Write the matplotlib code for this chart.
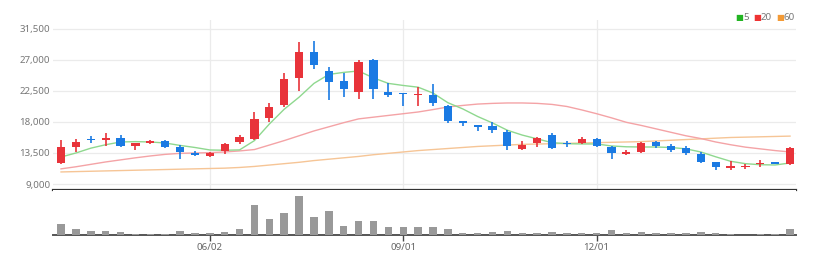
import numpy as np
import matplotlib
matplotlib.use("Agg")
import matplotlib.pyplot as plt

# DATA (weekly candles)

opens  = [12050, 14370, 15500, 15380, 15670, 14520, 14950, 15240, 14370, 13500,
          13070, 13790, 15100, 15530, 18580, 20470, 24380, 28160, 25400, 23950,
          22350, 27000, 22350, 22200, 21920, 21920, 20320, 18150, 17570, 17420,
          16550, 14080, 14950, 16110, 14950, 14950, 15530, 14370, 13360, 13650,
          15100, 14520, 14220, 13360, 12200, 11400, 11470, 11910, 12200, 11910]
highs  = [15400, 15530, 15970, 16400, 16110, 15000, 15400, 15400, 14670, 13800,
          13650, 14950, 16110, 19450, 20760, 25110, 29610, 29760, 25980, 25110,
          27000, 27150, 23660, 22200, 23080, 23510, 20470, 18150, 17570, 18000,
          16840, 15290, 15820, 16400, 15240, 15820, 15670, 14520, 13940, 15100,
          15240, 14810, 14520, 13650, 12200, 12340, 11910, 12480, 12200, 14370]
lows   = [11950, 13650, 14950, 14520, 14370, 13950, 14800, 14220, 12630, 13000,
          12920, 13360, 14810, 15380, 18000, 20180, 22500, 25690, 21190, 21630,
          21340, 21340, 21630, 20320, 20320, 20320, 17860, 17420, 16690, 16400,
          13940, 13940, 14370, 14080, 14370, 14810, 14370, 12630, 13210, 13500,
          14220, 13650, 13210, 12050, 11030, 11030, 11180, 11470, 11910, 11760]
closes = [14370, 15100, 15400, 15670, 14520, 14950, 15240, 14370, 13650, 13210,
          13500, 14810, 15820, 18440, 20180, 24240, 28160, 26270, 23810, 22790,
          26710, 22790, 21920, 22060, 22000, 20760, 18150, 17860, 17280, 16840,
          14520, 14670, 15670, 14280, 14810, 15530, 14520, 13500, 13650, 14950,
          14520, 13940, 13500, 12200, 11470, 11470, 11620, 12050, 11910, 14220]

ma5  = [12920, 13500, 14200, 14700, 15100, 15150, 15100, 14950, 14600, 14300,
        13940, 13900, 13950, 15300, 17700, 19850, 21600, 23600, 24900, 25200,
        25400, 24400, 23600, 23300, 23050, 22200, 20800, 19900, 18800, 17860,
        16800, 16100, 15550, 15000, 14850, 14810, 14810, 14520, 14400, 14370,
        14370, 14300, 14100, 13650, 12950, 12300, 11950, 11800, 11760, 12050]
ma20 = [11200, 11500, 11850, 12200, 12500, 12800, 13070, 13300, 13450, 13500,
        13550, 13650, 13800, 14000, 14650, 15300, 16000, 16700, 17300, 17900,
        18450, 18700, 18950, 19200, 19450, 19800, 20180, 20400, 20600, 20700,
        20760, 20760, 20700, 20550, 20250, 19750, 19200, 18600, 17950, 17500,
        17000, 16500, 16000, 15600, 15100, 14700, 14350, 14100, 13850, 13650]
ma60 = [10750, 10800, 10850, 10900, 10950, 11000, 11050, 11100, 11150, 11200,
        11250, 11300, 11400, 11550, 11750, 11950, 12150, 12400, 12600, 12800,
        13000, 13250, 13450, 13650, 13850, 14000, 14150, 14300, 14450, 14550,
        14650, 14750, 14800, 14850, 14900, 14950, 15000, 15050, 15100, 15150,
        15250, 15350, 15450, 15550, 15650, 15750, 15800, 15850, 15900, 15950]

volumes = [275000, 142000, 105000, 88000, 70000, 35000, 35000, 35000, 95000, 45000,
           45000, 70000, 138000, 762000, 400000, 550000, 975000, 438000, 612000, 225000,
           338000, 362000, 188000, 188000, 212000, 208000, 150000, 40000, 50000, 65000,
           90000, 58000, 40000, 82000, 58000, 40000, 58000, 115000, 40000, 82000,
           40000, 50000, 58000, 65000, 50000, 32000, 8000, 32000, 32000, 158000]

price_ticks = [9000, 13500, 18000, 22500, 27000, 31500]
date_tick_pos = [10, 23, 36]
date_tick_labels = ["06/02", "09/01", "12/01"]

# STYLE

UP = "#e8333a"
DOWN = "#1a7ae3"
W, H = 818, 264
plt.rcParams["font.family"] = ["Noto Sans", "DejaVu Sans"]

fig = plt.figure(figsize=(W / 100, H / 100), dpi=100)

def px_axes(l, t, r, b):
    return fig.add_axes([l / W, 1 - b / H, (r - l) / W, (b - t) / H])

ax = px_axes(53, 20, 796, 190)
axv = px_axes(53, 190, 796, 235)

n = len(closes)
x = np.arange(n)
o = np.array(opens); c = np.array(closes)
hi = np.array(highs); lo = np.array(lows)
colors = [UP if c[i] >= o[i] else DOWN for i in range(n)]

# PRICE PANEL

ax.plot(x, ma60, color="#f6c596", lw=1.0, zorder=2)
ax.plot(x, ma20, color="#f4a3a6", lw=1.0, zorder=2)
ax.plot(x, ma5, color="#8fd88f", lw=1.0, zorder=2)

ax.vlines(x, lo, hi, colors=colors, lw=1.2, zorder=3)
body_h = np.maximum(np.abs(c - o), 220)
body_b = np.minimum(o, c) - np.where(np.abs(c - o) < 220, (220 - np.abs(c - o)) / 2, 0)
ax.bar(x, body_h, bottom=body_b, width=0.55, color=colors, zorder=4)

ax.set_xlim(-0.54, n - 1 + 0.4)
ax.set_ylim(8130, 32800)
ax.set_yticks(price_ticks)
ax.set_yticklabels([f"{v:,}" for v in price_ticks], fontsize=7, color="#777777")
ax.tick_params(axis="y", length=0, pad=2)
ax.set_xticks(date_tick_pos)
ax.tick_params(axis="x", length=0, labelbottom=False)
ax.grid(True, color="#ebebeb", lw=0.9)
ax.set_axisbelow(True)
for s in ["top", "right", "left"]:
    ax.spines[s].set_visible(False)
ax.spines["bottom"].set_color("#333333")
ax.spines["bottom"].set_linewidth(1.6)

# VOLUME PANEL

axv.bar(x, volumes, width=0.5, color="#999999", zorder=3)
axv.set_xlim(ax.get_xlim())
axv.set_ylim(0, 1125000)
axv.set_yticks([])
axv.set_xticks(date_tick_pos)
axv.set_xticklabels(date_tick_labels, fontsize=7, color="#666666")
axv.tick_params(axis="x", length=4, width=1, color="#444444", pad=2)
for s in ["top", "right", "left"]:
    axv.spines[s].set_visible(False)
axv.spines["bottom"].set_color("#555555")
axv.spines["bottom"].set_linewidth(1.4)

# LEGEND

legend = [("5", "#22b422", 735), ("20", "#ee3333", 753), ("60", "#f39a36", 776)]
for lab, col, xp in legend:
    fig.text(xp / W, 1 - 18 / H, "\u25A0", color=col, fontsize=6, va="center", ha="left",
             family="DejaVu Sans")
    fig.text((xp + 8) / W, 1 - 18 / H, lab, color="#777777", fontsize=7, va="center", ha="left")

fig.savefig("out.png", dpi=100)
